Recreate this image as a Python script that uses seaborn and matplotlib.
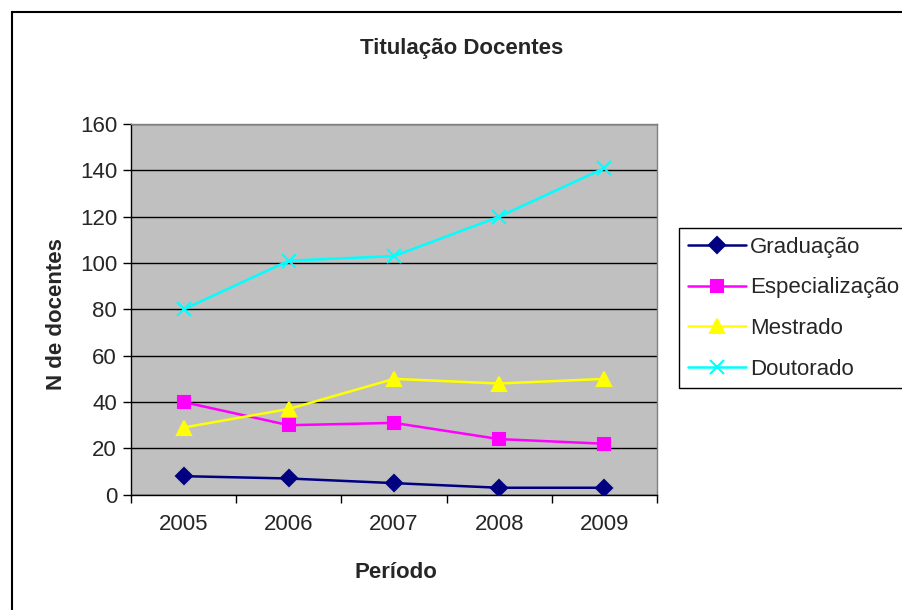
import pandas as pd
import seaborn as sns
import matplotlib.pyplot as plt
from matplotlib.patches import Rectangle
from matplotlib.ticker import FixedLocator

# Data
anos = ['2005', '2006', '2007', '2008', '2009']
graduacao = [8, 7, 5, 3, 3]
especializacao = [40, 30, 31, 24, 22]
mestrado = [29, 37, 50, 48, 50]
doutorado = [80, 101, 103, 120, 141]

series = ['Graduação', 'Especialização', 'Mestrado', 'Doutorado']
df = pd.DataFrame({
    'Período': anos * 4,
    'valor': graduacao + especializacao + mestrado + doutorado,
    'serie': [s for s in series for _ in anos],
})

sns.set_style('white')
plt.rcParams['font.family'] = ['Liberation Sans', 'DejaVu Sans']

fig = plt.figure(figsize=(9.03, 6.10), dpi=100)
ax = fig.add_axes([0.145, 0.189, 0.5826, 0.6077])

cores = {'Graduação': '#000080', 'Especialização': '#FF00FF',
         'Mestrado': '#FFFF00', 'Doutorado': '#00FFFF'}
marcadores = {'Graduação': 'D', 'Especialização': 's',
              'Mestrado': '^', 'Doutorado': 'x'}
tamanhos = {'Graduação': 8, 'Especialização': 8.5,
            'Mestrado': 10, 'Doutorado': 10}

for s in series:
    sns.lineplot(data=df[df['serie'] == s], x='Período', y='valor',
                 color=cores[s], marker=marcadores[s], label=s, ax=ax,
                 linewidth=1.8, markersize=tamanhos[s], markeredgewidth=1.5,
                 markeredgecolor=cores[s], zorder=3)

ax.set_facecolor('#C0C0C0')
ax.set_xlim(-0.5, 4.5)
ax.set_ylim(0, 160)
ax.set_yticks(range(0, 161, 20))
ax.yaxis.grid(True, color='black', linewidth=1)
ax.set_axisbelow(True)

ax.xaxis.set_minor_locator(FixedLocator([-0.5, 0.5, 1.5, 2.5, 3.5, 4.5]))
ax.tick_params(axis='x', which='major', length=0, pad=14, labelsize=16)
ax.tick_params(axis='x', which='minor', length=6, width=1, color='black',
               direction='out', bottom=True)
ax.tick_params(axis='y', length=6, width=1, color='black', direction='out',
               left=True, labelsize=16, pad=4)

for side in ['top', 'right']:
    ax.spines[side].set_color('#808080')
for side in ['left', 'bottom']:
    ax.spines[side].set_color('black')
for sp in ax.spines.values():
    sp.set_linewidth(1)

ax.set_xlabel('Período', fontsize=16, fontweight='bold')
ax.set_ylabel('N de docentes', fontsize=16, fontweight='bold')
ax.xaxis.set_label_coords(0.504, -0.211)
ax.yaxis.set_label_coords(-0.141, 0.486)
ax.xaxis.label.set_va('center')
ax.yaxis.label.set_va('center')

fig.text(0.511, 0.92, 'Titulação Docentes', ha='center', va='center',
         fontsize=16, fontweight='bold')

handles, labels = ax.get_legend_handles_labels()
ax.legend(handles, labels, loc='upper left',
          bbox_to_anchor=(679 / 903, 1 - 228 / 610),
          bbox_transform=fig.transFigure, frameon=True, fancybox=False,
          edgecolor='black', facecolor='white', framealpha=1,
          fontsize=16, handlelength=2.6, labelspacing=0.88,
          borderpad=0.4, handletextpad=0.2, borderaxespad=0)
ax.get_legend().get_frame().set_linewidth(1)

# outer chart border
fig.patches.append(Rectangle((12 / 903, -0.01), 1.0, 1 - 12 / 610 + 0.01,
                             transform=fig.transFigure, fill=False,
                             edgecolor='black', linewidth=1.5))

plt.savefig('out.png', dpi=100)
